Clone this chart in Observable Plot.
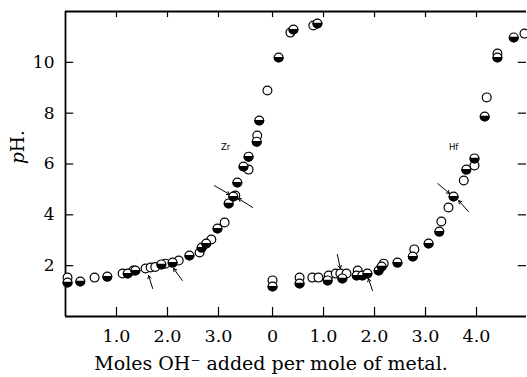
<!DOCTYPE html>
<html><head><meta charset="utf-8">
<script src="https://cdn.jsdelivr.net/npm/d3@7"></script>
<script src="https://cdn.jsdelivr.net/npm/@observablehq/plot@0.6"></script>
<style>body{margin:0;background:#fff}</style>
</head><body><div id="chart"></div>
<script>
// ---- data: [moles OH- per mole metal, pH] ----
const zrOpen = [[0.04,1.53],[0.57,1.53],[1.12,1.69],[1.33,1.81],[1.57,1.89],[1.67,1.93],[1.76,1.95],[1.96,2.08],[2.22,2.20],[2.63,2.52],[2.86,3.03],[3.12,3.70],[3.33,4.76],[3.59,5.78],[3.76,7.12],[3.96,8.89],[4.41,11.17],[4.86,11.45]];
const zrHalf = [[0.04,1.34],[0.29,1.38],[0.82,1.57],[1.22,1.69],[1.37,1.81],[1.88,2.05],[2.10,2.12],[2.43,2.40],[2.67,2.71],[2.76,2.87],[2.98,3.46],[3.20,4.45],[3.29,4.72],[3.37,5.27],[3.49,5.90],[3.59,6.29],[3.75,6.88],[3.80,7.71],[4.18,10.19],[4.47,11.29],[4.94,11.53]];
const hfOpen = [[0.00,1.42],[0.53,1.53],[0.78,1.53],[0.90,1.53],[1.10,1.61],[1.24,1.69],[1.33,1.69],[1.45,1.69],[1.67,1.81],[2.18,2.08],[2.78,2.64],[3.31,3.74],[3.45,4.29],[3.75,5.35],[3.96,5.94],[4.20,8.62],[4.41,10.35],[4.94,11.13]];
const hfHalf = [[0.00,1.18],[0.53,1.30],[1.08,1.42],[1.37,1.50],[1.65,1.61],[1.76,1.61],[1.86,1.69],[2.08,1.81],[2.14,1.97],[2.45,2.12],[2.75,2.36],[3.06,2.87],[3.27,3.34],[3.55,4.72],[3.80,5.78],[3.96,6.22],[4.16,7.87],[4.41,10.19],[4.73,10.98]];
// arrows [x1, pH1, x2, pH2] (tail -> head)
const zrArrows = [[2.92,5.15,3.22,4.80],[3.67,4.29,3.39,4.64],[1.71,1.10,1.63,1.61],[2.29,1.42,2.12,1.89]];
const hfArrows = [[1.27,2.44,1.33,1.89],[1.96,1.02,1.88,1.49],[3.24,5.23,3.47,4.84],[3.84,4.13,3.65,4.56]];
const zrTicks = [1, 2, 3];
const zrTickLabels = ["1.0", "2.0", "3.0"];
const hfTicks = [0, 1, 2, 3, 4];
const hfTickLabels = ["0", "1.0", "2.0", "3.0", "4.0"];
const yTicks = [2, 4, 6, 8, 10];
const yTickLabels = ["2", "4", "6", "8", "10"];
const seriesLabels = [{name: "Zr", x: 3.14, y: 6.65, panel: "zr"}, {name: "Hf", x: 3.55, y: 6.65, panel: "hf"}];
const xTitle = "Moles OH\u207B added per mole of metal.";
const yTitle = "pH.";

// ---- layout ----
const HF_OFFSET = 4.06;   // where Hf's zero sits on the shared x scale
const XMAX = 9.04, YMAX = 12;
const serif = "DejaVu Serif";
const zrX = d => d[0], hfX = d => d[0] + HF_OFFSET, pY = d => d[1];
const lowerHalf = {draw(ctx, size) { const r = Math.sqrt(size / Math.PI); ctx.moveTo(r, 0); ctx.arc(0, 0, r, 0, Math.PI); ctx.closePath(); }};
const tickPos = [...zrTicks, ...hfTicks.map(t => t + HF_OFFSET)];
const tickLab = [...zrTickLabels, ...hfTickLabels];
const R = 4.4;

function pts(data, xf, half) {
  const m = [Plot.dot(data, {x: xf, y: pY, r: R, fill: "white", stroke: "black", strokeWidth: 1.2})];
  if (half) m.push(Plot.dot(data, {x: xf, y: pY, r: R, symbol: lowerHalf, fill: "black", stroke: "black", strokeWidth: 1.2}));
  return m;
}

const chart = Plot.plot({
  width: 527, height: 377,
  marginLeft: 65, marginRight: 1, marginTop: 11, marginBottom: 61,
  x: {domain: [0, XMAX], axis: null},
  y: {domain: [0, YMAX], axis: null},
  style: {background: "white", overflow: "visible", color: "black"},
  marks: [
    Plot.ruleY([0], {stroke: "black", strokeWidth: 1.8}),
    Plot.ruleY([YMAX], {stroke: "black", strokeWidth: 1.8}),
    Plot.ruleX([0], {stroke: "black", strokeWidth: 1.8}),
    Plot.ruleX(tickPos, {x: d => d, y1: 0, y2: 0.36, stroke: "black", strokeWidth: 1.2}),
    Plot.ruleX(tickPos, {x: d => d, y1: YMAX, y2: YMAX - 0.24, stroke: "black", strokeWidth: 1.2}),
    Plot.ruleY(yTicks, {y: d => d, x1: 0, x2: 0.16, stroke: "black", strokeWidth: 1.2}),
    Plot.ruleY(yTicks, {y: d => d, x1: XMAX, x2: XMAX - 0.16, stroke: "black", strokeWidth: 1.2}),
    Plot.text(yTicks, {y: d => d, frameAnchor: "left", text: (d, i) => yTickLabels[i], textAnchor: "end", dx: -11, fill: "black", fontFamily: serif, fontSize: 17}),
    Plot.text(tickPos, {x: d => d, frameAnchor: "bottom", text: (d, i) => tickLab[i], dy: 25, fill: "black", fontFamily: serif, fontSize: 17.5, letterSpacing: 1}),
    Plot.text([xTitle], {frameAnchor: "bottom", text: d => d, dy: 53, dx: -25, fill: "black", fontFamily: serif, fontSize: 19, letterSpacing: 1.3}),
    Plot.text([yTitle], {frameAnchor: "left", text: d => d, rotate: -90, dx: -47, dy: 0, fill: "black", fontFamily: serif, fontSize: 18.5}),
    Plot.text(seriesLabels, {x: d => d.panel === "hf" ? d.x + HF_OFFSET : d.x, y: "y", text: "name", fill: "black", fontFamily: "DejaVu Sans", fontSize: 8.5, letterSpacing: 2}),
    Plot.arrow(zrArrows, {x1: d => d[0], y1: d => d[1], x2: d => d[2], y2: d => d[3], headLength: 5, stroke: "black", strokeWidth: 1}),
    Plot.arrow(hfArrows, {x1: d => d[0] + HF_OFFSET, y1: d => d[1], x2: d => d[2] + HF_OFFSET, y2: d => d[3], headLength: 5, stroke: "black", strokeWidth: 1}),
    ...pts(zrOpen, zrX, false),
    ...pts(hfOpen, hfX, false),
    ...pts(zrHalf, zrX, true),
    ...pts(hfHalf, hfX, true)
  ]
});
// italic p in "pH."
chart.querySelectorAll("text").forEach(t => {
  if (t.textContent === yTitle) {
    t.textContent = "";
    const ns = "http://www.w3.org/2000/svg";
    const a = document.createElementNS(ns, "tspan"); a.setAttribute("font-style", "italic"); a.textContent = "p";
    const b = document.createElementNS(ns, "tspan"); b.textContent = "H.";
    t.appendChild(a); t.appendChild(b);
  }
});
document.getElementById("chart").appendChild(chart);
</script>
</body></html>
